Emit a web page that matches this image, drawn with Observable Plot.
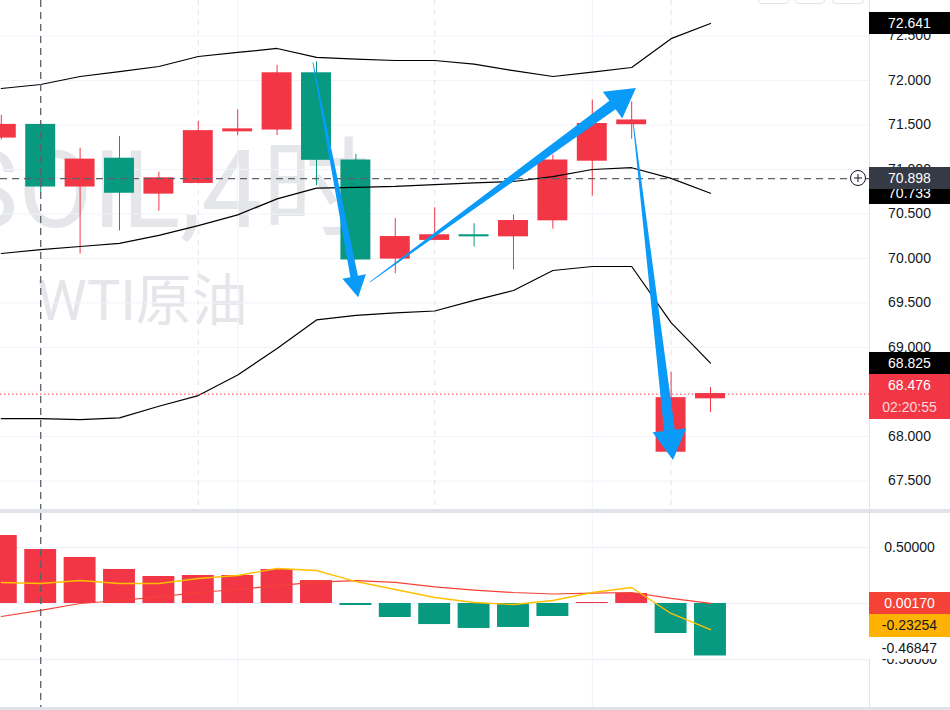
<!DOCTYPE html>
<html><head><meta charset="utf-8">
<script src="https://cdn.jsdelivr.net/npm/d3@7"></script>
<script src="https://cdn.jsdelivr.net/npm/@observablehq/plot@0.6"></script>
<style>
body{margin:0;background:#fff;}
#wrap{position:relative;width:950px;height:710px;overflow:hidden;background:#fff;font-family:"Liberation Sans",Arial,sans-serif;}
.abs{position:absolute;}
.lbl{position:absolute;left:869px;width:81px;text-align:center;font-size:14px;line-height:22.5px;}
.btn{position:absolute;top:-12px;height:14px;border:1px solid #e0e3eb;border-radius:4px;background:#fff;}
</style></head><body><div id="wrap"></div>
<script>
// ---------- data ----------
const idx = [0,1,2,3,4,5,6,7,8,9,10,11,12,13,14,15,16,17,18];
const open  = [71.36,71.50,70.81,71.12,70.73,70.85,71.43,71.45,72.08,71.10,70.00,70.21,70.26,70.25,70.43,71.10,71.51,67.83,68.43];
const high  = [71.61,71.52,71.24,71.37,70.97,71.54,71.67,72.17,72.21,71.17,70.45,70.57,70.39,70.49,71.16,71.78,71.76,68.72,68.55];
const low   = [71.33,70.73,70.05,70.31,70.53,70.84,71.38,71.38,70.82,69.98,69.83,70.20,70.13,69.87,70.33,70.70,71.34,67.83,68.27];
const close = [71.50,70.81,71.11,70.74,70.90,71.43,71.45,72.08,71.11,69.99,70.24,70.26,70.25,70.42,71.10,71.51,71.55,68.43,68.476];
const bbUpper = [71.91,71.955,72.045,72.10,72.157,72.27,72.315,72.36,72.26,72.24,72.225,72.225,72.185,72.11,72.045,72.095,72.146,72.47,72.641];
const bbMid   = [70.056,70.10,70.135,70.17,70.26,70.37,70.49,70.67,70.79,70.80,70.81,70.83,70.85,70.865,70.92,71.00,71.02,70.90,70.733];
const bbLower = [68.20,68.20,68.19,68.21,68.34,68.46,68.69,68.99,69.31,69.36,69.39,69.41,69.53,69.64,69.865,69.91,69.91,69.28,68.825];
const macdHist = [0.607,0.482,0.411,0.304,0.241,0.25,0.25,0.304,0.205,-0.018,-0.125,-0.188,-0.223,-0.214,-0.116,0.009,0.089,-0.268,-0.46847];
const macdDif  = [0.1875,0.179,0.205,0.179,0.179,0.223,0.25,0.3125,0.295,0.196,0.125,0.054,0.009,-0.009,0.027,0.098,0.143,-0.089,-0.23254];
const macdDea  = [-0.116,-0.062,0.0,0.027,0.059,0.098,0.125,0.16,0.19,0.205,0.188,0.148,0.12,0.098,0.085,0.093,0.098,0.045,0.0017];
const priceTicks = [67.5,68,68.5,69,69.5,70,70.5,71,71.5,72,72.5];
const macdTicks = [0.5,0,-0.5];
const sessionBreaks = [5,11,17];
const dayLines = [6,15];
const crossIndex = 1;
const crossPrice = 70.898;
const countdown = "02:20:55";
const arrowFromX = [7.92,9.37,16.05];
const arrowFromP = [72.2,69.73,71.52];
const arrowToX = [9.07,16.12,17.06];
const arrowToP = [69.56,71.91,67.73];
const watermark1 = "SOIL,4时";
const watermark2 = "WTI原油";

// ---------- styles ----------
const RED = "#f23645", GREEN = "#089981", GRID = "#f0f3fa", BORDER = "#e0e3eb";
const CROSS = "#5d606b", BLUE = "#0a9af8";
const xDomain = [-0.0203, 22.036];
const font = "Liberation Sans, Arial, sans-serif";

const wrap = document.getElementById("wrap");

// watermark (behind the panes)
const wm = d3.select(wrap).append("svg").attr("class","abs").style("left","0px").style("top","0px")
  .attr("width",870).attr("height",508);
wm.append("text").attr("x",370).attr("y",227).attr("text-anchor","end")
  .attr("font-family","Roboto, 'Noto Sans CJK SC', sans-serif").attr("font-size",108).attr("fill","#e5e6ea").text(watermark1);
wm.append("text").attr("x",37).attr("y",320)
  .attr("font-family","Roboto, 'Noto Sans CJK SC', sans-serif").attr("font-size",56).attr("fill","#e5e6ea").text(watermark2);

const candles = idx.map(i => ({i, o: open[i], h: high[i], l: low[i], c: close[i]}));
const col = d => d.c >= d.o ? RED : GREEN;

const topPlot = Plot.plot({
  width: 950, height: 509, marginLeft: 0, marginRight: 81, marginTop: 0, marginBottom: 0,
  style: {background: "transparent", fontSize: "14px", fontFamily: font, color: "#131722"},
  x: {domain: xDomain, axis: null},
  y: {domain: [67.1798, 72.8989], axis: null},
  color: {type: "identity"},
  marks: [
    Plot.ruleY(priceTicks, {stroke: GRID}),
    Plot.ruleX(dayLines, {stroke: GRID}),
    Plot.ruleX(sessionBreaks, {stroke: BORDER, strokeDasharray: "5,5"}),
    Plot.ruleX(candles, {x: "i", y1: "l", y2: "h", stroke: col}),
    Plot.rect(candles, {x1: d => d.i - 0.38, x2: d => d.i + 0.38, y1: "o", y2: "c", fill: col, insetTop: -0.6, insetBottom: -0.6}),
    Plot.line(idx, {x: i => i, y: i => bbUpper[i], stroke: "#000", strokeWidth: 1.2}),
    Plot.line(idx, {x: i => i, y: i => bbMid[i], stroke: "#000", strokeWidth: 1.2}),
    Plot.line(idx, {x: i => i, y: i => bbLower[i], stroke: "#000", strokeWidth: 1.2}),
    Plot.ruleY([close[18]], {stroke: RED, strokeDasharray: "1.5,2.5"}),
    Plot.ruleX([crossIndex], {stroke: CROSS, strokeDasharray: "7,5", strokeWidth: 1.3}),
    Plot.ruleY([crossPrice], {stroke: CROSS, strokeDasharray: "7,5", strokeWidth: 1.3}),
    Plot.axisY(priceTicks, {anchor: "right", label: null, tickSize: 0, tickPadding: 40, textAnchor: "middle", tickFormat: d => d.toFixed(3), fill: "#131722"})
  ]
});
topPlot.style.position = "absolute"; topPlot.style.left = "0px"; topPlot.style.top = "0px";
wrap.appendChild(topPlot);

// tapered annotation arrows, positioned through the plot's scales
const sx = topPlot.scale("x"), sy = topPlot.scale("y");
const g = d3.select(topPlot).append("g");
arrowFromX.forEach((_, k) => {
  const x0 = sx.apply(arrowFromX[k]), y0 = sy.apply(arrowFromP[k]);
  const x1 = sx.apply(arrowToX[k]), y1 = sy.apply(arrowToP[k]);
  const dx = x1 - x0, dy = y1 - y0, len = Math.hypot(dx, dy);
  const ux = dx / len, uy = dy / len, nx = -uy, ny = ux;
  const hl = 0.088 * len, hw = 0.05 * len, sw = 0.016 * len, s0 = 0.4;
  const bx = x1 - ux * hl, by = y1 - uy * hl;
  const pts = [
    [x0 + nx * s0, y0 + ny * s0], [bx + nx * sw, by + ny * sw], [bx + nx * hw, by + ny * hw],
    [x1, y1], [bx - nx * hw, by - ny * hw], [bx - nx * sw, by - ny * sw], [x0 - nx * s0, y0 - ny * s0]
  ];
  g.append("path").attr("d", "M" + pts.map(p => p.join(",")).join("L") + "Z").attr("fill", BLUE);
});

// bottom MACD pane
const bars = idx.map(i => ({i, v: macdHist[i]}));
const botPlot = Plot.plot({
  width: 950, height: 194, marginLeft: 0, marginRight: 81, marginTop: 0, marginBottom: 0,
  style: {background: "transparent", fontSize: "14px", fontFamily: font, color: "#131722"},
  x: {domain: xDomain, axis: null},
  y: {domain: [-0.9286, 0.8036], axis: null},
  color: {type: "identity"},
  marks: [
    Plot.ruleY(macdTicks, {stroke: GRID, strokeWidth: 1.3}),
    Plot.ruleX(dayLines, {stroke: GRID}),
    Plot.rect(bars, {x1: d => d.i - 0.405, x2: d => d.i + 0.405, y1: 0, y2: "v", fill: d => d.v >= 0 ? RED : GREEN}),
    Plot.line(idx, {x: i => i, y: i => macdDea[i], stroke: "#f44336", strokeWidth: 1.2}),
    Plot.line(idx, {x: i => i, y: i => macdDif[i], stroke: "#ffc000", strokeWidth: 1.4}),
    Plot.ruleX([crossIndex], {stroke: CROSS, strokeDasharray: "7,5", strokeWidth: 1.3}),
    Plot.axisY(macdTicks, {anchor: "right", label: null, tickSize: 0, tickPadding: 40, textAnchor: "middle", tickFormat: d => d.toFixed(5), fill: "#131722"})
  ]
});
botPlot.style.position = "absolute"; botPlot.style.left = "0px"; botPlot.style.top = "513px";
wrap.appendChild(botPlot);
const by2 = botPlot.scale("y");

// separators
function div(css) { const d = document.createElement("div"); d.className = "abs"; Object.assign(d.style, css); wrap.appendChild(d); return d; }
div({left: "0px", top: "509px", width: "950px", height: "4px", background: BORDER});
div({left: "0px", top: "707px", width: "950px", height: "3px", background: BORDER});
div({left: "869px", top: "0px", width: "1px", height: "707px", background: BORDER});
[[758,29],[795,28],[832,30]].forEach(([l,w]) => { const b = div({}); b.className = "btn"; b.style.left = l + "px"; b.style.width = w + "px"; });

// price labels
function label(top, h, bg, fg, lines) {
  const d = document.createElement("div");
  d.className = "lbl"; d.style.top = top + "px"; d.style.height = h + "px"; d.style.background = bg; d.style.color = fg;
  d.innerHTML = lines.map((t, k) => `<div style="${k ? 'color:rgba(255,255,255,0.82)' : ''}">${t}</div>`).join("");
  wrap.appendChild(d);
  return d;
}
const H = 22;
let prevBottom = -Infinity;
const topLabels = [
  {v: bbUpper[18], bg: "#000", fg: "#fff", lines: [bbUpper[18].toFixed(3)]},
  {v: bbMid[18], bg: "#000", fg: "#fff", lines: [bbMid[18].toFixed(3)]},
  {v: bbLower[18], bg: "#000", fg: "#fff", lines: [bbLower[18].toFixed(3)]},
  {v: close[18], bg: RED, fg: "#fff", lines: [close[18].toFixed(3), countdown]}
];
topLabels.forEach(L => {
  const h = H * L.lines.length + (L.lines.length - 1);
  let t = sy.apply(L.v) - h / 2;
  t = Math.max(t, prevBottom);
  label(t, h, L.bg, L.fg, L.lines);
  prevBottom = t + h;
});
// crosshair label
const cy = sy.apply(crossPrice);
label(cy - H / 2 - 0.5, H, "#363a45", "#fff", [crossPrice.toFixed(3)]);
// crosshair circle button
const ic = d3.select(wrap).append("svg").attr("class","abs").style("left","848px").style("top",(cy-10)+"px").attr("width",20).attr("height",20);
ic.append("circle").attr("cx",10).attr("cy",10).attr("r",7.5).attr("fill","#fff").attr("stroke","#131722").attr("stroke-width",1);
ic.append("path").attr("d","M10,6V14M6,10H14").attr("stroke","#131722").attr("stroke-width",1);

// MACD labels (stacked)
const macdLabels = [
  {v: macdDea[18], bg: "#f44336", fg: "#fff", t: macdDea[18].toFixed(5)},
  {v: macdDif[18], bg: "#ffb300", fg: "#131722", t: macdDif[18].toFixed(5)},
  {v: macdHist[18], bg: "#fff", fg: "#131722", t: macdHist[18].toFixed(5)}
];
let t0 = 513 + by2.apply(macdLabels[0].v) - (H + 0.5) / 2;
macdLabels.forEach((L, k) => {
  label(t0 + k * (H + 0.5), H + 0.5, L.bg, L.fg, [L.t]);
});
</script></body></html>
